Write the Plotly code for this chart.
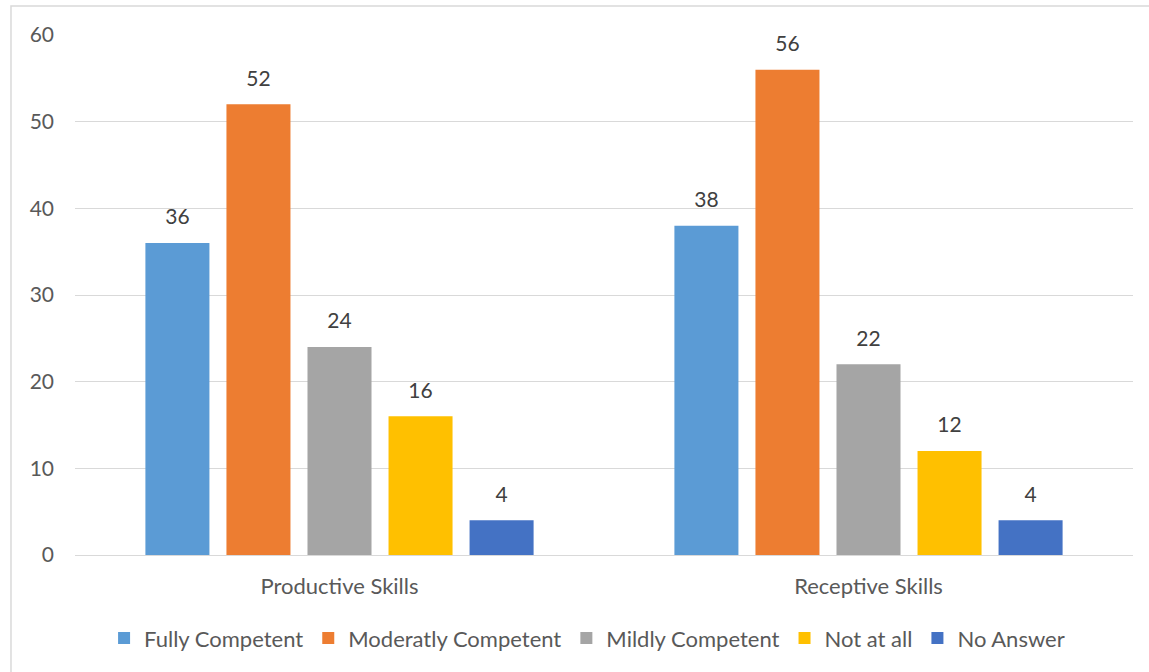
import plotly.graph_objects as go

# Survey results: self-rated competence per skill area
skills = ["Productive Skills", "Receptive Skills"]
fully_competent = [36, 38]
moderately_competent = [52, 56]
mildly_competent = [24, 22]
not_at_all = [16, 12]
no_answer = [4, 4]

series_names = ["Fully Competent", "Moderatly Competent", "Mildly Competent", "Not at all", "No Answer"]
series_values = [fully_competent, moderately_competent, mildly_competent, not_at_all, no_answer]
series_colors = ["#5B9BD5", "#ED7D31", "#A5A5A5", "#FFC000", "#4472C4"]

FONT = "Lato"
TEXT_COLOR = "#595959"
LABEL_COLOR = "#404040"
GRID_COLOR = "#D9D9D9"

fig = go.Figure()

for i, (name, vals, color) in enumerate(zip(series_names, series_values, series_colors)):
    fig.add_trace(go.Bar(
        name=name, x=skills, y=vals,
        marker=dict(color=color, line=dict(width=0)),
        offsetgroup=str(i), alignmentgroup="g",
    ))

# Value labels: invisible markers grouped like the bars lift the text above each bar
for i, (name, vals) in enumerate(zip(series_names, series_values)):
    fig.add_trace(go.Scatter(
        x=skills, y=vals, mode="markers+text",
        text=[str(v) for v in vals], textposition="top center",
        textfont=dict(family=FONT, size=21, color=LABEL_COLOR),
        marker=dict(size=20, opacity=0),
        offsetgroup=str(i), alignmentgroup="g",
        showlegend=False, hoverinfo="skip", cliponaxis=False,
    ))

fig.update_layout(
    width=1149, height=672,
    margin=dict(l=75, r=16, t=35, b=117),
    paper_bgcolor="white", plot_bgcolor="white",
    barmode="group", bargap=0.234, bargroupgap=0.21,
    scattermode="group", scattergap=0.234,
    font=dict(family=FONT, size=21, color=TEXT_COLOR),
    legend=dict(
        orientation="h", x=0.484, xanchor="center", y=-0.16, yanchor="middle",
        font=dict(family=FONT, size=22, color=TEXT_COLOR),
        itemwidth=30, traceorder="normal",
    ),
    xaxis=dict(
        showgrid=False, showline=True, linecolor=GRID_COLOR, linewidth=1,
        ticks="", ticklabelstandoff=12,
        tickfont=dict(family=FONT, size=22, color=TEXT_COLOR),
    ),
    yaxis=dict(
        range=[0, 60], dtick=10, showgrid=True, gridcolor=GRID_COLOR, gridwidth=1,
        zeroline=False, showline=False, ticks="", ticklabelstandoff=20,
        tickfont=dict(family=FONT, size=21, color=TEXT_COLOR),
    ),
    shapes=[dict(
        type="rect", xref="paper", yref="paper",
        x0=-0.0605, x1=1.05, y0=-0.4, y1=1.0558,
        line=dict(color=GRID_COLOR, width=1.5), fillcolor="rgba(0,0,0,0)",
        layer="below",
    )],
)

fig.write_html("out.html")
